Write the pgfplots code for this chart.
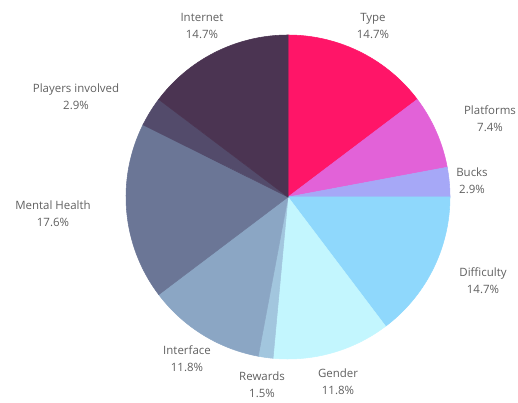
\documentclass[border=0pt]{standalone}
\usepackage{pgfplots}
\pgfplotsset{compat=1.18}
\usepackage{fontspec}
\setmainfont{Open Sans}
\definecolor{cType}{HTML}{FF1568}
\definecolor{cPlat}{HTML}{E262D8}
\definecolor{cBucks}{HTML}{A6A8F7}
\definecolor{cDiff}{HTML}{8FD8FC}
\definecolor{cGender}{HTML}{C3F6FE}
\definecolor{cRew}{HTML}{A2C6DE}
\definecolor{cInter}{HTML}{8BA6C4}
\definecolor{cMental}{HTML}{6B7696}
\definecolor{cPlayers}{HTML}{534B6B}
\definecolor{cInternet}{HTML}{4B3452}
\definecolor{txt}{HTML}{606060}
\begin{document}
\begin{tikzpicture}
\begin{axis}[
  scale only axis, width=388.5pt, height=302.25pt,
  xmin=0, xmax=518, ymin=0, ymax=403,
  hide axis, clip=false,
]
\path[draw=none] (rel axis cs:0,0) rectangle (rel axis cs:1,1);
% slice angles: start 90 deg, clockwise; counts out of 68 (10,5,2,10,8,1,8,12,2,10)
\addplot[fill=cType, draw=cType, domain=37.059:90, samples=40] ({288+162*cos(x)},{206+162*sin(x)}) -- (axis cs:288,206) -- cycle;
\addplot[fill=cPlat, draw=cPlat, domain=10.588:37.059, samples=25] ({288+162*cos(x)},{206+162*sin(x)}) -- (axis cs:288,206) -- cycle;
\addplot[fill=cBucks, draw=cBucks, domain=0:10.588, samples=12] ({288+162*cos(x)},{206+162*sin(x)}) -- (axis cs:288,206) -- cycle;
\addplot[fill=cDiff, draw=cDiff, domain=-52.941:0, samples=40] ({288+162*cos(x)},{206+162*sin(x)}) -- (axis cs:288,206) -- cycle;
\addplot[fill=cGender, draw=cGender, domain=-95.294:-52.941, samples=35] ({288+162*cos(x)},{206+162*sin(x)}) -- (axis cs:288,206) -- cycle;
\addplot[fill=cRew, draw=cRew, domain=-100.588:-95.294, samples=8] ({288+162*cos(x)},{206+162*sin(x)}) -- (axis cs:288,206) -- cycle;
\addplot[fill=cInter, draw=cInter, domain=-142.941:-100.588, samples=35] ({288+162*cos(x)},{206+162*sin(x)}) -- (axis cs:288,206) -- cycle;
\addplot[fill=cMental, draw=cMental, domain=-206.471:-142.941, samples=50] ({288+162*cos(x)},{206+162*sin(x)}) -- (axis cs:288,206) -- cycle;
\addplot[fill=cPlayers, draw=cPlayers, domain=-217.059:-206.471, samples=12] ({288+162*cos(x)},{206+162*sin(x)}) -- (axis cs:288,206) -- cycle;
\addplot[fill=cInternet, draw=cInternet, domain=-270:-217.059, samples=40] ({288+162*cos(x)},{206+162*sin(x)}) -- (axis cs:288,206) -- cycle;

\tikzset{lab/.style={font=\fontsize{8.6pt}{12.8pt}\selectfont, text=txt, align=center, inner sep=0pt}}
\node[lab] at (axis cs:373,377) {Type\\14.7\%};
\node[lab] at (axis cs:490,284) {Platforms\\7.4\%};
\node[lab] at (axis cs:472,222) {Bucks\\2.9\%};
\node[lab] at (axis cs:483,122) {Difficulty\\14.7\%};
\node[lab] at (axis cs:338,21) {Gender\\11.8\%};
\node[lab] at (axis cs:262,18) {Rewards\\1.5\%};
\node[lab] at (axis cs:187,44) {Interface\\11.8\%};
\node[lab] at (axis cs:53,189) {Mental Health\\17.6\%};
\node[lab] at (axis cs:76,306) {Players involved\\2.9\%};
\node[lab] at (axis cs:202,377) {Internet\\14.7\%};
\end{axis}
\end{tikzpicture}
\end{document}
